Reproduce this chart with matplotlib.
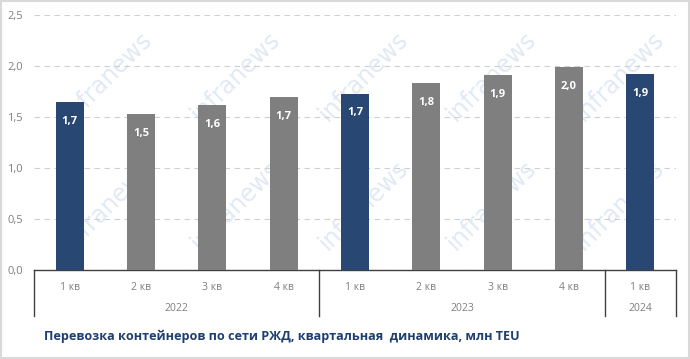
import matplotlib

matplotlib.use("Agg")
import matplotlib.pyplot as plt
from matplotlib.patches import Rectangle
from matplotlib.transforms import blended_transform_factory

plt.rcParams["font.family"] = ["Open Sans", "DejaVu Sans"]

# data
quarters = ["1 кв", "2 кв", "3 кв", "4 кв", "1 кв", "2 кв", "3 кв", "4 кв", "1 кв"]
values = [1.65, 1.53, 1.62, 1.70, 1.73, 1.83, 1.91, 1.99, 1.92]
labels = ["1,7", "1,5", "1,6", "1,7", "1,7", "1,8", "1,9", "2,0", "1,9"]
highlight = [True, False, False, False, True, False, False, False, True]
years = ["2022", "2023", "2024"]
year_spans = [(0, 3), (4, 7), (8, 8)]
yticks = [0.0, 0.5, 1.0, 1.5, 2.0, 2.5]
title = "Перевозка контейнеров по сети РЖД, квартальная  динамика, млн TEU"

NAVY = "#284773"
GRAY = "#7f7f7f"
TEXT = "#7f7f7f"

fig = plt.figure(figsize=(6.9, 3.59), dpi=100)

# watermark layer behind the chart
bg = fig.add_axes([0, 0, 1, 1], zorder=-1)
bg.set_xlim(0, 690)
bg.set_ylim(359, 0)
bg.axis("off")
for yc in (76, 205):
    for xc in (108, 236, 364, 492, 620):
        bg.text(xc, yc, "infranews", rotation=45, ha="center", va="center",
                fontsize=17, color="#e1e9f4", family="DejaVu Sans")

ax = fig.add_axes([34 / 690, 1 - 270 / 359, (676 - 34) / 690, 255 / 359])

x = list(range(len(values)))
colors = [NAVY if h else GRAY for h in highlight]
ax.bar(x, values, width=0.39, color=colors, zorder=3)

for xi, v, lab in zip(x, values, labels):
    ax.annotate(lab, (xi, v), xytext=(0, -14), textcoords="offset points",
                ha="center", va="center", color="white", fontsize=8,
                fontweight="bold", zorder=4)

ax.set_xlim(-0.5, len(values) - 0.5)
ax.set_ylim(0, 2.5)
ax.set_yticks(yticks)
ax.set_yticklabels([f"{t:.1f}".replace(".", ",") for t in yticks],
                   color=TEXT, fontsize=8)
ax.yaxis.grid(True, linestyle=(0, (5, 4)), color="#d0d0d0", linewidth=0.8)
ax.set_axisbelow(True)
ax.tick_params(axis="y", length=0, pad=8)
ax.tick_params(axis="x", length=0, pad=9)
ax.set_xticks(x)
ax.set_xticklabels(quarters, color=TEXT, fontsize=7.5)
for s in ("top", "right", "left"):
    ax.spines[s].set_visible(False)
ax.spines["bottom"].set_color("#404040")
ax.spines["bottom"].set_linewidth(1.0)
ax.patch.set_alpha(0)

# year groups and separators
tr = blended_transform_factory(ax.transData, ax.transAxes)
for yr, (a, b) in zip(years, year_spans):
    ax.text((a + b) / 2, -0.15, yr, transform=tr, ha="center", va="center",
            color=TEXT, fontsize=7.5)
for sep in (-0.5, 3.5, 7.5, 8.5):
    ax.plot([sep, sep], [0, -0.18], transform=tr, color="#404040",
            linewidth=1.0, clip_on=False)

fig.text(44 / 690, 1 - 336 / 359, title, ha="left", va="center",
         fontsize=9.1, fontweight="bold", color="#1f3f6e")

fig.patches.append(Rectangle((0.002, 0.003), 0.996, 0.994, transform=fig.transFigure,
                             fill=False, edgecolor="#d9d9d9", linewidth=1.5))

fig.savefig("out.png", dpi=100)
